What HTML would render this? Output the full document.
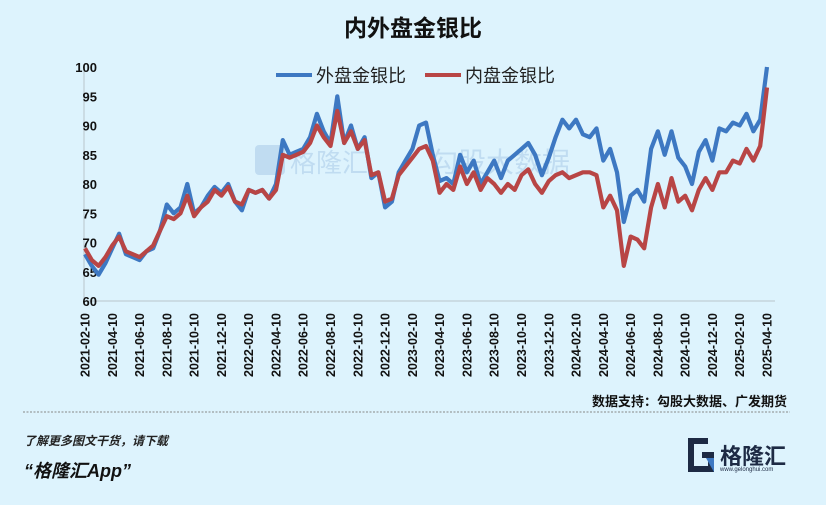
<!DOCTYPE html>
<html><head><meta charset="utf-8"><style>
body{margin:0;width:826px;height:505px;background:#ddf3fd;overflow:hidden;font-family:"Liberation Sans","Noto Sans CJK SC",sans-serif;}
</style></head><body>
<svg id="chart" width="826" height="505" xmlns="http://www.w3.org/2000/svg" style="position:absolute;left:0;top:0">
<rect width="826" height="505" fill="#ddf3fd"/>
<text x="413" y="36" text-anchor="middle" font-size="23" font-weight="bold" fill="#111" font-family="Liberation Sans, Noto Sans CJK SC, sans-serif">内外盘金银比</text>
<g opacity="0.22" font-family="Liberation Sans, Noto Sans CJK SC, sans-serif">
<rect x="255" y="145" width="30" height="30" rx="4" fill="#5b8fc9"/>
<text x="290" y="172" font-size="26" fill="#5b8fc9">格隆汇</text>
<text x="430" y="172" font-size="28" fill="#5b8fc9">勾股大数据</text>
</g>
<g id="axes"></g>
<g id="series"></g>
<g font-family="Liberation Sans, Noto Sans CJK SC, sans-serif">
<line x1="276" y1="75" x2="312" y2="75" stroke="#3d78c2" stroke-width="4"/>
<text x="316" y="82" font-size="18" fill="#222">外盘金银比</text>
<line x1="425" y1="75" x2="461" y2="75" stroke="#b84545" stroke-width="4"/>
<text x="465" y="82" font-size="18" fill="#222">内盘金银比</text>
</g>
<text x="787" y="406" text-anchor="end" font-size="13" font-weight="bold" fill="#111" font-family="Liberation Sans, Noto Sans CJK SC, sans-serif">数据支持：勾股大数据、广发期货</text>
<line x1="23" y1="412" x2="790" y2="412" stroke="#888" stroke-dasharray="2,1.5"/>
<text x="24" y="445" font-size="12" font-weight="bold" font-style="italic" fill="#222" font-family="Liberation Sans, Noto Sans CJK SC, sans-serif">了解更多图文干货，请下载</text>
<text x="24" y="477" font-size="18" font-weight="bold" font-style="italic" fill="#111" font-family="Liberation Sans, Noto Sans CJK SC, sans-serif">“格隆汇App”</text>
<g font-family="Liberation Sans, Noto Sans CJK SC, sans-serif">
<path d="M688 438 h20 v6 h-14 v22 h14 v-8 h-6 v-6 h12 v20 h-26 z" fill="#1d2a44"/>
<path d="M706 458 l8 0 l0 14 z" fill="#3d78c2"/>
<text x="720" y="464" font-size="22" font-weight="bold" fill="#1d2a44">格隆汇</text>
<text x="720" y="471" font-size="6" fill="#1d2a44">www.gelonghui.com</text>
</g>
</svg>
<script>
const ticks=["2021-02-10","2021-04-10","2021-06-10","2021-08-10","2021-10-10","2021-12-10","2022-02-10","2022-04-10","2022-06-10","2022-08-10","2022-10-10","2022-12-10","2023-02-10","2023-04-10","2023-06-10","2023-08-10","2023-10-10","2023-12-10","2024-02-10","2024-04-10","2024-06-10","2024-08-10","2024-10-10","2024-12-10","2025-02-10","2025-04-10"];
const yTicks=[60,65,70,75,80,85,90,95,100];
const outer=[68,66,64.5,66.5,69,71.5,68,67.5,67,68.5,69,72,76.5,75,76,80,75,76,78,79.5,78.5,80,77,75.5,79,78.5,79,77.5,80,87.5,85,85.5,86,88,92,89,87,95,87,90,86,88,81,82,76,77,82,84,86,90,90.5,85,80.5,81,80,85,82,84,80,82,84,81,84,85,86,87,85,81.5,84.5,88,91,89.5,91,88.5,88,89.5,84,86,82,73.5,78,79,77,86,89,85,89,84.5,83,80,85.5,87.5,84,89.5,89,90.5,90,92,89,91,100];
const inner=[69,67,66,67.5,69.5,71,68.5,68,67.5,68.5,69.5,72,74.5,74,75,78,74.5,76,77,79,78,79.5,77,76.5,79,78.5,79,77.5,79,85,84.5,85,85.5,87,90,88,86.5,92.5,87,89,86,87.5,81.5,82,77,77.5,81.5,83,84.5,86,86.5,84,78.5,80,79,83,80,82,79,81,80,78.5,80,79,81.5,82.5,80,78.5,80.5,81.5,82,81,81.5,82,82,81.5,76,78,75.5,66,71,70.5,69,76,80,76,81,77,78,75.5,79,81,79,82,82,84,83.5,86,84,86.5,96.5];
const X0=85,X1=767,Y0=301,Y1=67;
function xs(i,n){return X0+(X1-X0)*i/(n-1);}
function ys(v){return Y0-(v-60)/40*(Y0-Y1);}
const NS="http://www.w3.org/2000/svg";
const ax=document.getElementById('axes');
function mk(tag,attrs,parent){const e=document.createElementNS(NS,tag);for(const k in attrs)e.setAttribute(k,attrs[k]);parent.appendChild(e);return e;}
let l=mk('line',{x1:84,y1:67,x2:84,y2:301,stroke:'#b9c4cc','stroke-width':1},ax);


l=mk('line',{x1:84,y1:301,x2:775,y2:301,stroke:'#b9c4cc','stroke-width':1},ax);


yTicks.forEach(v=>{const t=mk('text',{x:97,y:ys(v)+5,'text-anchor':'end','font-size':13,'font-weight':'bold',fill:'#111'},ax);t.textContent=v;

});
ticks.forEach((d,i)=>{const x=X0+(X1-X0)*i/(ticks.length-1);const t=mk('text',{x:0,y:0,'text-anchor':'end','font-size':12.5,'font-weight':'bold',fill:'#111',transform:`translate(${x+4.5},313) rotate(-90)`},ax);t.textContent=d;

});
const sg=document.getElementById('series');
function draw(arr,color,name){const d=arr.map((v,i)=>(i?'L':'M')+xs(i,arr.length).toFixed(1)+','+ys(v).toFixed(1)).join(' ');
const p=mk('path',{d:d,fill:'none',stroke:color,'stroke-width':4.2,'stroke-linejoin':'round'},sg);

}
draw(outer,'#3d78c2','outer-ratio-line');
draw(inner,'#b84545','inner-ratio-line');
</script>
</body></html>
